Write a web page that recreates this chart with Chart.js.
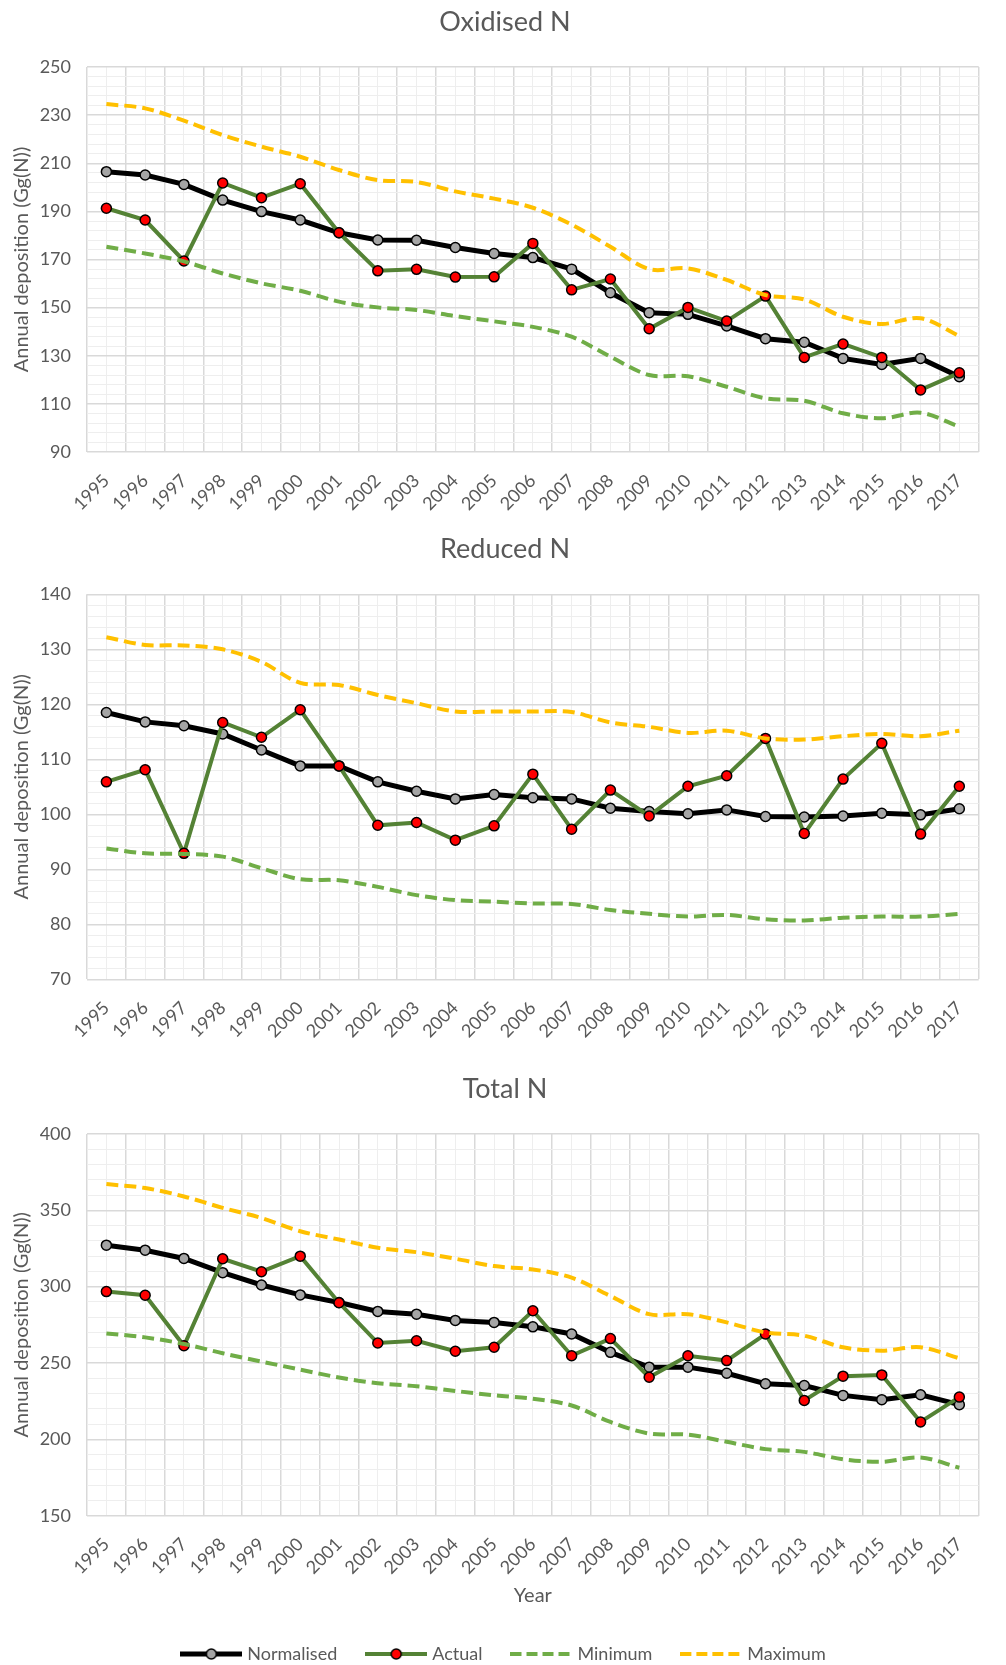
<!DOCTYPE html>
<html>
<head>
<meta charset="utf-8">
<script src="https://cdn.jsdelivr.net/npm/chart.js@4.4.0/dist/chart.umd.min.js"></script>
<style>
  html, body { margin: 0; padding: 0; background: #fff; overflow: hidden; width: 1006px; height: 1665px; }
  canvas { display: block; }
</style>
</head>
<body>
<canvas id="oxidised" width="1012" height="520"></canvas>
<canvas id="reduced" width="1012" height="540"></canvas>
<canvas id="total" width="1012" height="613"></canvas>
<script>
const years = [1995, 1996, 1997, 1998, 1999, 2000, 2001, 2002, 2003, 2004, 2005, 2006,
  2007, 2008, 2009, 2010, 2011, 2012, 2013, 2014, 2015, 2016, 2017];

// Oxidised N
const oxNormalised = [206.5, 205.1, 201.2, 194.7, 189.9, 186.4, 181.1, 178.1, 178.0, 175.0, 172.5, 170.8,
  166.0, 156.2, 147.9, 147.2, 142.4, 137.1, 135.6, 128.9, 126.4, 128.9, 121.3];
const oxActual = [191.3, 186.4, 169.4, 201.8, 195.7, 201.5, 181.1, 165.3, 165.9, 162.7, 162.8, 176.7,
  157.4, 161.9, 141.2, 150.1, 144.4, 154.8, 129.3, 134.9, 129.3, 115.8, 122.9];
const oxMin = [175.3, 172.5, 169.2, 164.2, 160.1, 157.0, 152.5, 150.1, 149.0, 146.5, 144.3, 142.0,
  137.9, 129.6, 122.0, 121.5, 117.1, 112.3, 111.3, 106.1, 104.0, 106.3, 100.5];
const oxMax = [234.6, 232.8, 227.7, 221.7, 216.9, 212.7, 207.2, 203.0, 202.2, 198.3, 195.3, 191.5,
  184.5, 175.3, 166.0, 166.3, 161.5, 155.2, 153.4, 146.2, 143.2, 145.6, 138.2];

// Reduced N
const redNormalised = [118.5, 116.8, 116.1, 114.6, 111.7, 108.8, 108.8, 105.9, 104.2, 102.8, 103.6, 103.0,
  102.8, 101.1, 100.5, 100.1, 100.8, 99.6, 99.5, 99.7, 100.2, 99.9, 101.0];
const redActual = [105.9, 108.1, 92.9, 116.7, 114.0, 119.0, 108.8, 98.0, 98.5, 95.3, 97.9, 107.3,
  97.3, 104.4, 99.7, 105.1, 107.0, 113.8, 96.5, 106.4, 112.9, 96.4, 105.1];
const redMin = [93.8, 92.9, 92.8, 92.3, 90.2, 88.2, 88.0, 86.8, 85.3, 84.4, 84.1, 83.8,
  83.7, 82.6, 81.9, 81.4, 81.7, 80.9, 80.7, 81.2, 81.4, 81.4, 81.9];
const redMax = [132.2, 130.8, 130.7, 130.0, 127.7, 123.9, 123.5, 121.7, 120.2, 118.7, 118.7, 118.7,
  118.6, 116.7, 115.9, 114.8, 115.2, 113.8, 113.6, 114.2, 114.6, 114.2, 115.2];

// Total N
const totNormalised = [327.2, 323.9, 318.5, 309.2, 301.1, 294.6, 289.6, 283.8, 282.0, 277.9, 276.6, 273.7,
  269.0, 257.0, 247.3, 247.3, 243.3, 236.4, 235.3, 228.8, 226.0, 229.2, 222.7];
const totActual = [296.8, 294.4, 261.3, 318.3, 309.8, 320.0, 289.5, 263.1, 264.6, 257.7, 260.3, 284.2,
  254.8, 266.0, 240.7, 254.8, 251.6, 269.0, 225.5, 241.4, 242.2, 211.4, 227.7];
const totMin = [269.4, 266.8, 262.5, 256.4, 250.9, 245.7, 240.5, 236.8, 234.8, 231.7, 228.9, 226.6,
  222.2, 211.4, 203.8, 203.1, 198.4, 193.6, 191.8, 187.0, 185.3, 188.1, 181.4];
const totMax = [367.2, 364.6, 359.1, 351.6, 345.0, 336.3, 330.9, 325.5, 322.6, 318.3, 313.5, 311.3,
  305.9, 293.9, 282.0, 282.0, 276.6, 270.0, 267.9, 260.3, 258.1, 260.3, 253.1];

const seriesNames = ["Normalised", "Actual", "Minimum", "Maximum"];

Chart.defaults.font.family = "Lato";
Chart.defaults.color = "#595959";

const MAJOR = "#d9d9d9";
const MINOR = "#eeeeee";

function pts(vals) {
  return vals.map((v, i) => ({ x: years[i], y: v }));
}

// small line+marker pictures for the legend (Excel style)
function swatch(color, width, dash, marker) {
  const c = document.createElement("canvas");
  c.width = 62; c.height = 14;
  const g = c.getContext("2d");
  g.strokeStyle = color;
  g.lineWidth = width;
  g.setLineDash(dash);
  g.beginPath(); g.moveTo(0, 7); g.lineTo(62, 7); g.stroke();
  if (marker) {
    g.setLineDash([]);
    g.beginPath(); g.arc(31, 7, 5, 0, Math.PI * 2);
    g.fillStyle = marker; g.fill();
    g.lineWidth = 1.5; g.strokeStyle = "#000"; g.stroke();
  }
  return c;
}

function makeChart(id, title, normal, actual, mn, mx, yMin, yMax, minorStep, majorStep, o) {
  const datasets = [
    { label: seriesNames[3], data: pts(mx), borderColor: "#ffc000", borderWidth: 4, borderDash: [12, 6],
      pointRadius: 0, tension: 0.33, fill: false },
    { label: seriesNames[2], data: pts(mn), borderColor: "#70ad47", borderWidth: 4, borderDash: [12, 6],
      pointRadius: 0, tension: 0.33, fill: false },
    { label: seriesNames[1], data: pts(actual), borderColor: "#548235", borderWidth: 4,
      pointRadius: 5, pointBorderWidth: 1.5, pointBackgroundColor: "#ff0000", pointBorderColor: "#000", tension: 0 },
    { label: seriesNames[0], data: pts(normal), borderColor: "#000", borderWidth: 5,
      pointRadius: 5, pointBorderWidth: 1.5, pointBackgroundColor: "#a5a5a5", pointBorderColor: "#000", tension: 0 },
  ];

  const swatches = [
    swatch("#000", 5, [], "#a5a5a5"),
    swatch("#548235", 4, [], "#ff0000"),
    swatch("#70ad47", 4, [11, 5], null),
    swatch("#ffc000", 4, [11, 5], null),
  ];

  return new Chart(document.getElementById(id), {
    type: "line",
    data: { datasets: datasets },
    options: {
      responsive: false,
      animation: false,
      events: [],
      layout: { padding: { left: 0, right: 2, top: 0, bottom: 0 } },
      plugins: {
        title: {
          display: true,
          text: title,
          font: { size: 27, weight: "normal" },
          color: "#595959",
          padding: { top: o.titleTop, bottom: o.titleBottom },
        },
        legend: {
          display: o.legend,
          position: "bottom",
          labels: {
            usePointStyle: true,
            pointStyleWidth: 54,
            padding: 32,
            font: { size: 18 },
            color: "#595959",
            generateLabels: () => seriesNames.map((n, i) => ({
              text: n, pointStyle: swatches[i], fillStyle: "transparent",
              strokeStyle: "transparent", lineWidth: 0, fontColor: "#595959", hidden: false,
            })),
          },
        },
        tooltip: { enabled: false },
      },
      scales: {
        x: {
          type: "linear",
          min: years[0] - 0.5,
          max: years[years.length - 1] + 0.5,
          afterFit: (s) => { s.height = o.xHeight; },
          border: { display: false },
          grid: {
            drawTicks: false,
            color: (c) => (c.tick && Number.isInteger(c.tick.value)) ? MINOR : MAJOR,
            lineWidth: (c) => (c.tick && Number.isInteger(c.tick.value)) ? 1 : 1.5,
          },
          ticks: {
            stepSize: 0.5,
            autoSkip: false,
            minRotation: 45,
            maxRotation: 45,
            padding: 18,
            font: { size: 18 },
            color: "#595959",
            callback: (v) => Number.isInteger(v) ? String(v) : "",
          },
          title: {
            display: o.xTitle,
            text: "Year",
            font: { size: 20 },
            color: "#595959",
            padding: { top: 0, bottom: 5 },
          },
        },
        y: {
          min: yMin,
          max: yMax,
          afterFit: (s) => { s.width = 87; },
          border: { display: false },
          grid: {
            drawTicks: false,
            color: (c) => (c.tick && Math.round(c.tick.value - yMin) % majorStep === 0) ? MAJOR : MINOR,
            lineWidth: (c) => (c.tick && Math.round(c.tick.value - yMin) % majorStep === 0) ? 1.5 : 1,
          },
          ticks: {
            stepSize: minorStep,
            autoSkip: false,
            padding: 16,
            font: { size: 18 },
            color: "#595959",
            callback: (v) => Math.round(v - yMin) % majorStep === 0 ? String(Math.round(v)) : "",
          },
          title: {
            display: true,
            text: "Annual deposition (Gg(N))",
            font: { size: 20 },
            color: "#595959",
            padding: { top: 9.5, bottom: 0 },
          },
        },
      },
    },
  });
}

makeChart("oxidised", "Oxidised N", oxNormalised, oxActual, oxMin, oxMax, 90, 250, 4, 20,
  { titleTop: 6, titleBottom: 28.6, xHeight: 68, legend: false, xTitle: false });
makeChart("reduced", "Reduced N", redNormalised, redActual, redMin, redMax, 70, 140, 2, 10,
  { titleTop: 12.8, titleBottom: 29.1, xHeight: 80.7, legend: false, xTitle: false });
makeChart("total", "Total N", totNormalised, totActual, totMin, totMax, 150, 400, 10, 50,
  { titleTop: 12.7, titleBottom: 28.9, xHeight: 97.3, legend: true, xTitle: true });
</script>
</body>
</html>
